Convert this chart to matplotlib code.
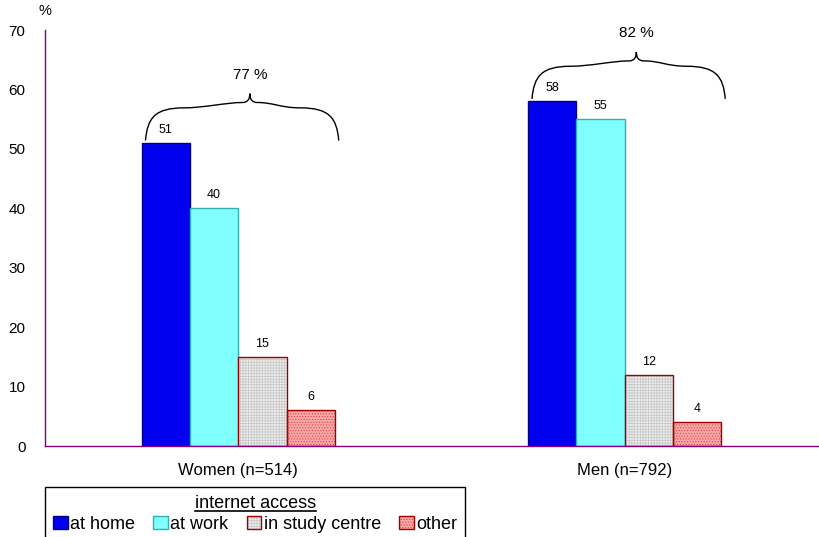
import matplotlib
matplotlib.use("Agg")
import matplotlib.pyplot as plt
import numpy as np
from matplotlib.path import Path
from matplotlib.patches import PathPatch
from matplotlib.legend_handler import HandlerTuple
from matplotlib.lines import Line2D

plt.rcParams['font.family'] = ['Liberation Sans', 'DejaVu Sans']
plt.rcParams['hatch.linewidth'] = 0.5

# data
groups = ['Women (n=514)', 'Men (n=792)']
series = ['at home', 'at work', 'in study centre', 'other']
at_home = [51, 58]
at_work = [40, 55]
in_study_centre = [15, 12]
other = [6, 4]
any_access = [77, 82]
yticks = [0, 10, 20, 30, 40, 50, 60, 70]

values = [at_home, at_work, in_study_centre, other]
faces = ['#0000ee', '#80ffff', '#eeeeee', '#f8a8a8']
edges = ['#000080', '#30b0b0', '#a00000', '#a00000']
hatches = [None, None, '++++++', '......']
hatch_colors = [None, None, '#c4c4c4', '#e04040']

W, H = 819, 537
fig = plt.figure(figsize=(W / 100, H / 100), dpi=100)
ax = fig.add_axes([45 / W, (H - 446) / H, (818 - 45) / W, (446 - 30) / H])

x = np.arange(len(groups))
bw = 0.125
handles = []
for i, vals in enumerate(values):
    pos = x + (i - 1.5) * bw
    if hatches[i]:
        hb = ax.bar(pos, vals, bw, color=faces[i], edgecolor=hatch_colors[i],
                    linewidth=0, hatch=hatches[i], zorder=2)
        eb = ax.bar(pos, vals, bw, fill=False, edgecolor=edges[i],
                    linewidth=1.0, zorder=3)
        handles.append((hb[0], eb[0]))
    else:
        b = ax.bar(pos, vals, bw, color=faces[i], edgecolor=edges[i],
                   linewidth=1.0, zorder=2)
        handles.append(b[0])
    for xp, v in zip(pos, vals):
        ax.text(xp, v + 1.2, f'{v}', ha='center', va='bottom', fontsize=9)


def brace(ax, x0, x1, xc, base):
    ye, ys, ys2, yt = base + 0.4, base + 5.9, base + 6.8, base + 8.3
    w = x1 - x0
    verts = [
        (x0, ye),
        (x0 + 0.01 * w, ye + 0.7 * (ys - ye)), (x0 + 0.05 * w, ys), (x0 + 0.2 * w, ys),
        (x0 + 0.3 * w, ys), (xc - 0.12 * w, ys2), (xc - 0.04 * w, ys2),
        (xc - 0.01 * w, ys2), (xc, ys2 + 0.4 * (yt - ys2)), (xc, yt),
        (xc, ys2 + 0.4 * (yt - ys2)), (xc + 0.01 * w, ys2), (xc + 0.04 * w, ys2),
        (xc + 0.12 * w, ys2), (x1 - 0.3 * w, ys), (x1 - 0.2 * w, ys),
        (x1 - 0.05 * w, ys), (x1 - 0.01 * w, ye + 0.7 * (ys - ye)), (x1, ye),
    ]
    codes = [Path.MOVETO] + [Path.CURVE4] * 18
    ax.add_patch(PathPatch(Path(verts, codes), fill=False, lw=1.0,
                           edgecolor='black', zorder=4, clip_on=False))


for gi in range(len(groups)):
    base = max(v[gi] for v in values)
    x0, x1 = x[gi] - 2 * bw + 0.01, x[gi] + 2 * bw + 0.01
    xc = x[gi] + 0.03
    brace(ax, x0, x1, xc, base)
    ax.text(xc, base + 11.5, f'{any_access[gi]} %', ha='center', va='center',
            fontsize=11)

ax.set_xlim(-0.5, 1.5)
ax.set_ylim(0, 70)
ax.set_yticks(yticks)
ax.set_xticks(x)
ax.set_xticklabels(groups, fontsize=12)
ax.tick_params(axis='y', length=0, pad=14, labelsize=11)
ax.tick_params(axis='x', length=0, pad=12)
for s in ['top', 'right']:
    ax.spines[s].set_visible(False)
for s in ['left', 'bottom']:
    ax.spines[s].set_color('#800080')
    ax.spines[s].set_linewidth(1.0)
ax.text(0.0, 1.03, '%', transform=ax.transAxes, ha='center', va='bottom',
        fontsize=10.5)

leg = fig.legend(handles, series, loc='upper left',
                 bbox_to_anchor=(45 / W, 50 / H), borderaxespad=0,
                 ncol=4, title='internet access', title_fontsize=13,
                 fontsize=13, frameon=True, fancybox=False,
                 edgecolor='black', framealpha=1, handlelength=0.8,
                 handleheight=0.7, handletextpad=0.15, columnspacing=1.0,
                 borderpad=0.45, labelspacing=0.2,
                 handler_map={tuple: HandlerTuple(ndivide=1)})
leg.get_frame().set_linewidth(1.0)

fig.canvas.draw()
tb = leg.get_title().get_window_extent(fig.canvas.get_renderer())
inv = fig.transFigure.inverted()
(lx0, ly), (lx1, _) = inv.transform([(tb.x0, tb.y0 + 1), (tb.x1, tb.y0 + 1)])
fig.add_artist(Line2D([lx0, lx1], [ly, ly], color='black', lw=1.2,
                      transform=fig.transFigure, zorder=10))

fig.savefig('out.png', dpi=100)
